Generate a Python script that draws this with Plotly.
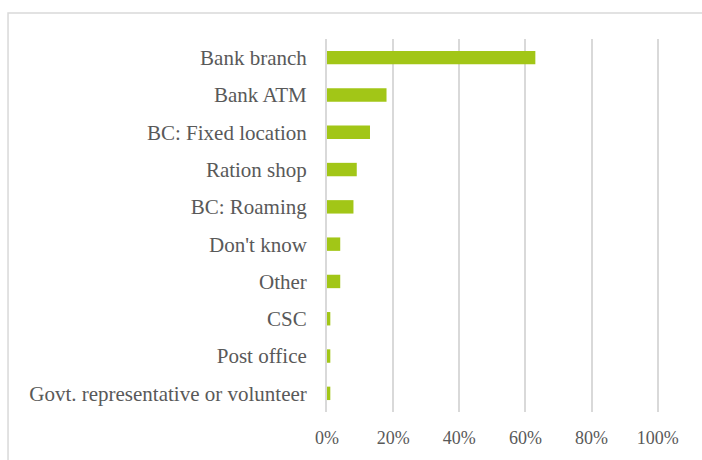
import plotly.graph_objects as go

# Where cash is withdrawn (share of respondents, %)
categories = [
    "Bank branch",
    "Bank ATM",
    "BC: Fixed location",
    "Ration shop",
    "BC: Roaming",
    "Don't know",
    "Other",
    "CSC",
    "Post office",
    "Govt. representative or volunteer",
]
shares = [63, 18, 13, 9, 8, 4, 4, 1, 1, 1]
tick_values = [0, 20, 40, 60, 80, 100]
tick_labels = ["0%", "20%", "40%", "60%", "80%", "100%"]

BAR_COLOR = "#A2C617"
GRID_COLOR = "#D9D9D9"
TEXT_COLOR = "#595959"
FONT = "Liberation Serif"

fig = go.Figure(
    go.Bar(
        x=shares,
        y=categories,
        orientation="h",
        width=0.36,
        marker=dict(color=BAR_COLOR, line=dict(width=0)),
    )
)

fig.update_layout(
    width=702,
    height=460,
    margin=dict(l=327, r=41, t=39, b=42),
    paper_bgcolor="white",
    plot_bgcolor="white",
    showlegend=False,
    font=dict(family=FONT, color=TEXT_COLOR),
    xaxis=dict(
        range=[0, 101],
        tickvals=tick_values,
        ticktext=tick_labels,
        showgrid=True,
        gridcolor=GRID_COLOR,
        gridwidth=2,
        zeroline=False,
        showline=False,
        ticks="",
        tickfont=dict(family=FONT, size=18, color=TEXT_COLOR),
        ticklabelstandoff=13,
    ),
    yaxis=dict(
        categoryorder="array",
        categoryarray=categories[::-1],
        showgrid=False,
        zeroline=False,
        showline=True,
        linecolor=GRID_COLOR,
        linewidth=2,
        ticks="",
        tickfont=dict(family=FONT, size=21, color=TEXT_COLOR),
        ticklabelstandoff=14,
    ),
    shapes=[
        # chart frame running off the right and bottom edges
        dict(
            type="rect",
            xref="paper",
            yref="paper",
            x0=-0.955,
            x1=2.0,
            y0=-1.0,
            y1=1.0697,
            line=dict(color=GRID_COLOR, width=1.5),
            fillcolor="rgba(0,0,0,0)",
            layer="below",
        )
    ],
)

fig.write_html("out.html")
